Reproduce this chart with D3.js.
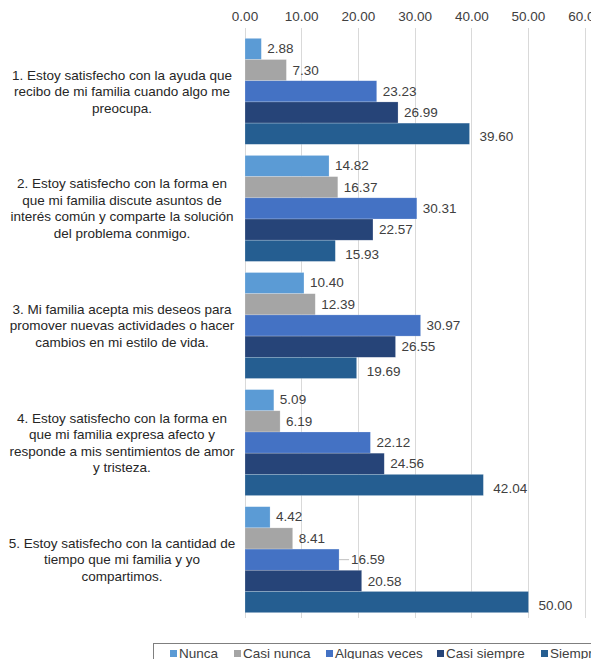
<!DOCTYPE html>
<html><head><meta charset="utf-8">
<script src="https://cdn.jsdelivr.net/npm/d3@7"></script>
<style>body{margin:0;background:#fff;}svg{display:block;font-family:"Liberation Sans",Arial,sans-serif;}</style>
</head><body><svg id="c" width="591" height="659"></svg>
<script>
const categories = [
  ["1. Estoy satisfecho con la ayuda que","recibo de mi familia cuando algo me","preocupa."],
  ["2. Estoy satisfecho con la forma en","que mi familia discute asuntos de","interés común y comparte la solución","del problema conmigo."],
  ["3. Mi familia acepta mis deseos para","promover nuevas actividades o hacer","cambios en mi estilo de vida."],
  ["4. Estoy satisfecho con la forma en","que mi familia expresa afecto y","responde a mis sentimientos de amor","y tristeza."],
  ["5. Estoy satisfecho con la cantidad de","tiempo que mi familia y yo","compartimos."]
];
const seriesNames = ["Nunca","Casi nunca","Algunas veces","Casi siempre","Siempre"];
const seriesColors = ["#5B9BD5","#A5A5A5","#4472C4","#264478","#255E91"];
const nunca = [2.88,14.82,10.40,5.09,4.42];
const casiNunca = [7.30,16.37,12.39,6.19,8.41];
const algunasVeces = [23.23,30.31,30.97,22.12,16.59];
const casiSiempre = [26.99,22.57,26.55,24.56,20.58];
const siempre = [39.60,15.93,19.69,42.04,50.00];
const xTicks = [0,10,20,30,40,50,60];

const series = [nunca,casiNunca,algunasVeces,casiSiempre,siempre];
const svg = d3.select("#c");
const x = d3.scaleLinear().domain([0,60]).range([245,585.2]);
const y = d3.scaleBand().domain(d3.range(categories.length)).range([32.5,618.5]).paddingInner(0.095).paddingOuter(0.05);
const ys = d3.scaleBand().domain(d3.range(seriesNames.length)).range([0,y.bandwidth()]);

// grid
svg.append("g").selectAll("line").data(xTicks).join("line")
  .attr("x1",d=>x(d)).attr("x2",d=>x(d)).attr("y1",28).attr("y2",618)
  .attr("stroke","#d9d9d9").attr("stroke-width",1).attr("shape-rendering","crispEdges");

// top axis labels
svg.append("g").selectAll("text").data(xTicks).join("text")
  .attr("x",d=>x(d)).attr("y",21).attr("text-anchor","middle")
  .attr("font-size",13.5).attr("fill","#404040").text(d=>d3.format(".2f")(d));

// bars
const g = svg.append("g");
categories.forEach((c,i)=>{
  series.forEach((s,j)=>{
    const v = s[i];
    const y0 = y(i)+ys(j);
    g.append("rect").attr("x",x(0)).attr("y",y0).attr("width",x(v)-x(0)).attr("height",ys.bandwidth())
      .attr("fill",seriesColors[j]).attr("stroke","#ffffff").attr("stroke-opacity",0.35).attr("stroke-width",0.6);
    g.append("text").attr("x",x(v)+6+(j===4?4:0)+(j===2&&i===4?6:0)).attr("y",y0+ys.bandwidth()/2+(j===4?3:0)+(j===0?-1:0))
      .attr("dy","0.35em").attr("font-size",13.5).attr("fill","#404040").text(d3.format(".2f")(v));
    if(j===2&&i===4){
      g.append("line").attr("x1",x(v)).attr("x2",x(v)+10).attr("y1",y0+ys.bandwidth()/2).attr("y2",y0+ys.bandwidth()/2)
        .attr("stroke","#bfbfbf").attr("stroke-width",1);
    }
  });
  // category label
  const lines = c;
  const lh = 16.5;
  const cy = y(i)+y.bandwidth()/2;
  const t = svg.append("text").attr("text-anchor","middle").attr("font-size",13.5).attr("fill","#262626");
  lines.forEach((l,k)=>{
    t.append("tspan").attr("x",122).attr("y",cy+(k-(lines.length-1)/2)*lh).attr("dy","0.35em").text(l);
  });
});

// legend
svg.append("rect").attr("x",153.5).attr("y",643.5).attr("width",460).attr("height",30)
  .attr("fill","none").attr("stroke","#7f7f7f").attr("stroke-width",1);
const legX = [170,234,326,437,541];
const lg = svg.append("g");
seriesNames.forEach((n,j)=>{
  lg.append("rect").attr("x",legX[j]).attr("y",650).attr("width",7).attr("height",7).attr("fill",seriesColors[j]);
  lg.append("text").attr("x",legX[j]+9).attr("y",658).attr("font-size",13.5).attr("fill","#404040").text(n);
});
</script></body></html>
